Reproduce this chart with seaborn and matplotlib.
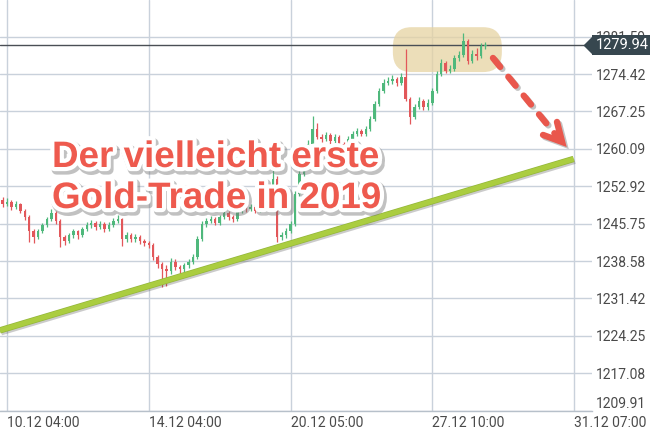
import numpy as np
import matplotlib
matplotlib.use("Agg")
import matplotlib.pyplot as plt
import matplotlib.patheffects as pe
from matplotlib.patches import FancyBboxPatch
from matplotlib.transforms import blended_transform_factory
import seaborn as sns
import pandas as pd

sns.set_theme(style="white")
plt.rcParams["font.family"] = ["Roboto", "DejaVu Sans"]

# ---------------- data (3-hour candles) ----------------
open_ = [1250.2, 1249.5, 1249.9, 1248.9, 1249.5, 1248.2, 1247.0, 1244.3, 1243.2, 1244.3,
         1245.5, 1246.6, 1247.8, 1246.2, 1243.2, 1242.4, 1243.5, 1244.3, 1243.5, 1244.7,
         1245.5, 1245.9, 1245.1, 1245.7, 1244.7, 1245.5, 1246.2, 1246.6, 1242.8, 1243.5,
         1242.8, 1243.2, 1242.4, 1242.0, 1241.6, 1239.3, 1238.0, 1237.0, 1236.6, 1238.5,
         1237.4, 1237.0, 1237.8, 1238.5, 1239.3, 1242.8, 1245.7, 1246.2, 1246.6, 1245.9,
         1247.0, 1247.8, 1247.0, 1246.6, 1248.2, 1249.5, 1248.5, 1248.9, 1248.2, 1249.3,
         1250.5, 1252.4, 1254.3, 1243.2, 1243.5, 1244.3, 1245.7, 1251.4, 1255.3, 1258.5,
         1261.0, 1263.9, 1262.4, 1262.0, 1262.8, 1261.6, 1262.4, 1261.0, 1260.1, 1262.0,
         1263.0, 1263.5, 1263.0, 1263.9, 1265.8, 1268.7, 1271.2, 1272.8, 1273.1, 1273.5,
         1272.8, 1273.9, 1269.7, 1266.2, 1268.1, 1269.3, 1268.1, 1268.9, 1271.2, 1274.5,
         1276.6, 1275.1, 1275.4, 1277.4, 1278.1, 1280.8, 1277.0, 1278.3, 1277.8, 1279.7]
high = [1250.8, 1250.6, 1250.3, 1250.0, 1249.8, 1248.6, 1247.4, 1244.8, 1244.7, 1245.9,
        1247.1, 1248.6, 1248.1, 1246.6, 1243.6, 1243.9, 1244.8, 1244.6, 1245.2, 1246.0,
        1246.5, 1246.3, 1246.2, 1246.0, 1246.0, 1246.8, 1247.4, 1246.9, 1244.2, 1243.9,
        1243.8, 1243.6, 1242.9, 1242.5, 1242.0, 1239.7, 1238.4, 1237.9, 1239.2, 1238.9,
        1237.9, 1238.3, 1239.0, 1239.9, 1243.3, 1246.2, 1246.9, 1247.3, 1247.0, 1247.5,
        1248.4, 1248.2, 1247.4, 1248.7, 1250.1, 1249.9, 1249.5, 1249.3, 1249.8, 1251.0,
        1253.0, 1256.2, 1254.8, 1244.2, 1244.9, 1246.3, 1252.0, 1256.0, 1259.2, 1261.7,
        1266.4, 1265.0, 1263.0, 1263.4, 1263.2, 1262.9, 1262.8, 1261.4, 1262.5, 1263.6,
        1264.1, 1263.9, 1264.5, 1266.4, 1269.3, 1271.8, 1273.5, 1273.8, 1274.2, 1273.9,
        1274.6, 1279.3, 1270.1, 1268.7, 1270.0, 1269.7, 1269.6, 1271.8, 1275.1, 1277.3,
        1277.0, 1276.1, 1278.0, 1278.8, 1282.2, 1281.2, 1279.0, 1279.5, 1280.3, 1280.6]
low = [1249.0, 1249.1, 1248.4, 1248.5, 1247.7, 1246.5, 1242.3, 1242.0, 1242.8, 1243.9,
       1245.1, 1246.2, 1245.7, 1241.2, 1241.6, 1242.0, 1243.0, 1242.9, 1243.1, 1244.3,
       1245.0, 1244.6, 1244.7, 1244.2, 1244.3, 1245.1, 1245.8, 1241.4, 1242.3, 1242.2,
       1242.3, 1241.9, 1241.4, 1241.0, 1238.8, 1237.3, 1233.6, 1233.8, 1236.1, 1236.8,
       1236.0, 1236.5, 1237.3, 1238.1, 1238.9, 1242.4, 1245.2, 1245.8, 1245.4, 1245.5,
       1246.6, 1246.5, 1246.0, 1246.2, 1247.8, 1248.0, 1248.1, 1247.7, 1247.9, 1248.9,
       1250.1, 1252.0, 1242.2, 1242.6, 1243.0, 1243.9, 1245.3, 1251.0, 1254.9, 1258.1,
       1260.6, 1261.9, 1261.4, 1261.6, 1261.1, 1261.2, 1260.5, 1256.2, 1259.7, 1261.6,
       1262.6, 1262.5, 1262.6, 1263.5, 1265.4, 1268.3, 1270.8, 1272.3, 1272.6, 1272.2,
       1272.4, 1269.2, 1264.9, 1265.8, 1267.7, 1267.5, 1267.6, 1268.5, 1270.8, 1274.1,
       1274.6, 1274.6, 1275.0, 1277.0, 1277.7, 1276.4, 1276.6, 1277.2, 1277.4, 1279.2]
close = [1249.5, 1249.9, 1248.9, 1249.5, 1248.2, 1247.0, 1244.3, 1243.2, 1244.3, 1245.5,
         1246.6, 1247.8, 1246.2, 1243.2, 1242.4, 1243.5, 1244.3, 1243.5, 1244.7, 1245.5,
         1245.9, 1245.1, 1245.7, 1244.7, 1245.5, 1246.2, 1246.6, 1242.8, 1243.5, 1242.8,
         1243.2, 1242.4, 1242.0, 1241.6, 1239.3, 1238.0, 1237.0, 1236.6, 1238.5, 1237.4,
         1237.0, 1237.8, 1238.5, 1239.3, 1242.8, 1245.7, 1246.2, 1246.6, 1245.9, 1247.0,
         1247.8, 1247.0, 1246.6, 1248.2, 1249.5, 1248.5, 1248.9, 1248.2, 1249.3, 1250.5,
         1252.4, 1254.3, 1243.2, 1243.5, 1244.3, 1245.7, 1251.4, 1255.3, 1258.5, 1261.0,
         1263.9, 1262.4, 1262.0, 1262.8, 1261.6, 1262.4, 1261.0, 1260.1, 1262.0, 1263.0,
         1263.5, 1263.0, 1263.9, 1265.8, 1268.7, 1271.2, 1272.8, 1273.1, 1273.5, 1272.8,
         1273.9, 1269.7, 1266.2, 1268.1, 1269.3, 1268.1, 1268.9, 1271.2, 1274.5, 1276.6,
         1275.1, 1275.4, 1277.4, 1278.1, 1280.8, 1277.0, 1278.3, 1277.8, 1279.7, 1279.9]

time_tick_bars = [0, 32, 64, 96, 128]
time_tick_labels = ["10.12 04:00", "14.12 04:00", "20.12 05:00", "27.12 10:00", "31.12 07:00"]
price_ticks = [1209.91, 1217.08, 1224.25, 1231.42, 1238.58, 1245.75,
               1252.92, 1260.09, 1267.25, 1274.42, 1281.59]
last_price = 1279.94
trend_bars = [-1.6, 127.9]
trend_prices = [1225.3, 1258.15]
highlight_bars = [87.1, 111.7]
highlight_prices = [1274.8, 1283.4]
arrow_bars = [109.7, 124.6]
arrow_prices = [1277.5, 1262.0]
arrow_head_bars = [121.0, 125.3, 124.15]
arrow_head_prices = [1262.75, 1261.41, 1265.24]
headline = ["Der vielleicht erste", "Gold-Trade in 2019"]

df = pd.DataFrame({"bar": list(range(-1, len(close) - 1)),
                   "open": open_, "high": high, "low": low, "close": close})
df["up"] = df["close"] >= df["open"]

GREEN = "#4fb87c"
RED = "#e2575a"
GRID = "#c9d1db"

# ---------------- figure ----------------
fig = plt.figure(figsize=(6.5, 4.34), dpi=100)
ax = fig.add_axes([0, 23.3 / 434, 592 / 650, 410.7 / 434])
ax.set_xlim(-1.58, 132.05)
ax.set_ylim(1209.91, 1288.61)
ax.set_axisbelow(True)

# grid / axes styling
ax.set_yticks(price_ticks)
ax.set_yticklabels([f"{p:.2f}" for p in price_ticks])
ax.yaxis.tick_right()
ax.tick_params(axis="y", length=0, pad=3, labelsize=10, labelcolor="#4a4a4a")
ax.set_xticks(time_tick_bars)
ax.set_xticklabels(time_tick_labels)
ax.tick_params(axis="x", length=3, width=1, color="#b7c0ca", pad=1,
               labelsize=10, labelcolor="#4a4a4a")
for lab in ax.get_xticklabels():
    lab.set_horizontalalignment("left")
ax.get_yticklabels()[0].set_verticalalignment("bottom")
ax.grid(True, color=GRID, lw=1)
for s in ["top", "left", "right"]:
    ax.spines[s].set_visible(False)
ax.spines["bottom"].set_color("#b7c0ca")
ax.spines["bottom"].set_linewidth(1)

# highlight box (behind candles)
hl = FancyBboxPatch((highlight_bars[0], highlight_prices[0]),
                    highlight_bars[1] - highlight_bars[0],
                    highlight_prices[1] - highlight_prices[0],
                    boxstyle="round,pad=0,rounding_size=4.2", mutation_aspect=0.9,
                    fc="#e6d3a2", ec="none", alpha=0.75, zorder=1)
ax.add_patch(hl)

# candles
colors = np.where(df["up"], GREEN, RED)
ax.vlines(df["bar"], df["low"], df["high"], colors=colors, lw=0.9, zorder=3)
body_low = np.minimum(df["open"], df["close"])
body_h = np.maximum(np.abs(df["close"] - df["open"]), 0.2)
ax.bar(df["bar"], body_h, bottom=body_low, width=0.55, color=colors, lw=0, zorder=3)

# last price line
ax.axhline(last_price, color="#4a4f55", lw=1, zorder=2)

# trend line
sns.lineplot(x=trend_bars, y=trend_prices, ax=ax, color="#abcd40", lw=3.6, zorder=6)
tl = ax.lines[-1]
tl.set_solid_capstyle("butt")
tl.set_path_effects([pe.SimpleLineShadow(offset=(1, -1.8), shadow_color="#555555", alpha=0.3),
                     pe.Stroke(linewidth=4.6, foreground="#93b63a"),
                     pe.Normal()])

# red dashed arrow
arrow_fx = [pe.SimpleLineShadow(offset=(1.5, -1.5), shadow_color="#555555", alpha=0.35), pe.Normal()]
shaft, = ax.plot(arrow_bars, arrow_prices, color="#e9574c", lw=4.6,
                 dashes=(1.8, 2.0), dash_capstyle="round", zorder=7, clip_on=False)
shaft.set_path_effects(arrow_fx)
head, = ax.plot(arrow_head_bars, arrow_head_prices, color="#e9574c", lw=4.6,
                solid_capstyle="round", solid_joinstyle="miter", zorder=7, clip_on=False)
head.set_path_effects(arrow_fx)

# headline
text_fx = [pe.Stroke(offset=(1.5, -2), linewidth=7, foreground="#777777", alpha=0.45),
           pe.Stroke(linewidth=6, foreground="white"),
           pe.Normal()]
for line, yb in zip(headline, [0.5934, 0.4935]):
    ax.text(0.0878, yb, line, transform=ax.transAxes, ha="left", va="baseline",
            fontsize=26.5, fontweight="bold", family=["Liberation Sans", "DejaVu Sans"],
            color="#ee5a4e", path_effects=text_fx, zorder=8)

# price badge
blend = blended_transform_factory(ax.transAxes, ax.transData)
ax.plot([1.0], [last_price], transform=blend, marker=[(-1, 0), (0, 1), (0, -1)],
        ms=13, color="#37474f", mec="none", clip_on=False, zorder=9)
ax.annotate(f"{last_price:.2f}", xy=(1.0, last_price), xycoords=blend,
            xytext=(2.5, 0), textcoords="offset points", ha="left", va="center",
            fontsize=10.5, color="white", annotation_clip=False, zorder=10,
            bbox=dict(boxstyle="square,pad=0.22", fc="#37474f", ec="none"))

fig.savefig("out.png", dpi=100)
